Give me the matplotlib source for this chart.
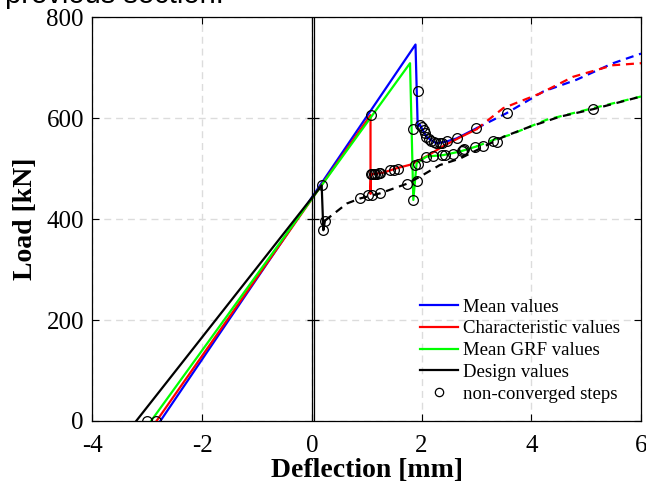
import matplotlib
matplotlib.use("Agg")
import matplotlib.pyplot as plt
import numpy as np

# ---------------- data ----------------
mean_solid_x = [-2.76, 1.89, 1.93, 1.97, 2.09, 2.27, 2.46, 2.64, 3.00]
mean_solid_y = [0, 746, 583, 587, 563, 550, 554, 560, 580]
mean_dash_x = [3.00, 3.55, 4.22, 4.82, 5.49, 6.00]
mean_dash_y = [580, 610, 653, 676, 709, 728]

char_solid_x = [-2.83, 1.07, 1.07, 1.08, 1.30, 1.55, 1.80, 2.10, 2.40, 2.70, 3.00]
char_solid_y = [0, 606, 450, 489, 492, 501, 508, 525, 545, 562, 578]
char_dash_x = [3.00, 3.49, 4.16, 4.76, 5.49, 6.00]
char_dash_y = [578, 620, 649, 682, 705, 709]

grf_solid_x = [-2.93, 1.79, 1.85, 1.91, 2.09, 2.40, 2.70, 3.00]
grf_solid_y = [0, 709, 438, 511, 524, 527, 534, 544]
grf_dash_x = [3.00, 3.31, 3.61, 4.28, 5.13, 6.00]
grf_dash_y = [544, 557, 567, 597, 620, 643]

des_solid_x = [-3.20, 0.18, 0.21, 0.24]
des_solid_y = [0, 467, 378, 397]
des_dash_x = [0.24, 0.64, 0.88, 1.24, 1.73, 1.97, 2.33, 2.70, 3.49, 3.97, 4.52, 5.13, 6.00]
des_dash_y = [397, 431, 441, 451, 470, 484, 507, 520, 563, 583, 603, 618, 643]

nc_x = [-3.00, -2.84, 0.18, 0.21, 0.24, 1.07,
        1.07, 1.10, 1.13, 1.16, 1.19, 1.22, 1.25, 1.42, 1.50, 1.58,
        0.88, 1.03, 1.09, 1.24, 1.73, 1.84, 1.85, 1.91, 1.94,
        1.97, 2.00, 2.04, 2.07, 2.09, 2.13, 2.18, 2.22, 2.27, 2.33, 2.38, 2.46,
        2.64, 3.00, 1.88, 1.93, 2.09, 2.20, 2.37, 2.42, 2.58, 2.73, 2.78,
        2.97, 2.76, 3.12, 3.31, 3.37, 3.55, 5.13]
nc_y = [0, 0, 467, 378, 397, 606,
        489, 489, 489, 489, 490, 491, 492, 497, 498, 499,
        441, 448, 448, 451, 470, 578, 438, 476, 654,
        587, 582, 576, 570, 563, 558, 555, 553, 550, 550, 551, 554,
        560, 580, 507, 509, 524, 525, 527, 528, 530, 536, 538,
        542, 537, 545, 554, 552, 610, 618]

xticks = [-4, -2, 0, 2, 4, 6]
yticks = [0, 200, 400, 600, 800]

labels = ["Mean values", "Characteristic values", "Mean GRF values",
          "Design values", "non-converged steps"]
colors = ["#0000ff", "#ff0000", "#00ff00", "#000000"]

# ---------------- figure ----------------
serif = ["Liberation Serif", "DejaVu Serif"]
fig = plt.figure(figsize=(6.46, 4.91), dpi=100)
ax = fig.add_axes([0.1429, 0.1426, 0.9923 - 0.1429, 0.9648 - 0.1426])

lw = 1.6
dash = (3.6, 2.6)
series = [
    (mean_solid_x, mean_solid_y, mean_dash_x, mean_dash_y),
    (char_solid_x, char_solid_y, char_dash_x, char_dash_y),
    (grf_solid_x, grf_solid_y, grf_dash_x, grf_dash_y),
    (des_solid_x, des_solid_y, des_dash_x, des_dash_y),
]
handles = []
for i, (sx, sy, dx, dy) in enumerate(series):
    h, = ax.plot(sx, sy, color=colors[i], lw=lw, zorder=3 + i * 0.1)
    d, = ax.plot(dx, dy, color=colors[i], lw=lw, zorder=3 + i * 0.1)
    d.set_dashes(dash)
    d.set_dash_capstyle("butt")
    handles.append(h)

hm, = ax.plot(nc_x, nc_y, linestyle="none", marker="o", ms=7, mfc="none",
              mec="black", mew=0.9, zorder=5)
handles.append(hm)

# origin y-axis (double line) with tick marks
ax.axvline(0.0, color="black", lw=0.9, zorder=4)
ax.axvline(0.032, color="black", lw=0.9, zorder=4)
ax.plot([0.016] * 3, yticks[1:4], linestyle="none", marker="_", ms=8,
        mec="black", mew=0.9, zorder=4)

ax.set_xlim(-4, 6)
ax.set_ylim(0, 800)
ax.set_xticks(xticks)
ax.set_yticks(yticks)
ax.set_xticklabels([f"{t:d}" for t in xticks])
ax.set_yticklabels([f"{t:d}" for t in yticks])
ax.tick_params(direction="in", length=5, width=0.8, top=True, right=True,
               labelsize=18)
ax.tick_params(axis="x", pad=10)
ax.tick_params(axis="y", pad=6)
for lab in ax.get_xticklabels() + ax.get_yticklabels():
    lab.set_family(serif)
for sp in ax.spines.values():
    sp.set_linewidth(0.9)

ax.grid(True, color="#dcdcdc", lw=1.0, linestyle=(0, (5, 3.5)))
ax.set_axisbelow(True)

ax.set_xlabel("Deflection [mm]", family=serif, fontsize=20, fontweight="bold",
              labelpad=1)
ax.set_ylabel("Load [kN]", family=serif, fontsize=20, fontweight="bold",
              labelpad=6)

leg = ax.legend(handles, labels, loc="lower right", frameon=False,
                prop={"family": serif, "size": 13.5}, handlelength=2.0,
                handletextpad=0.3, labelspacing=0.25, borderpad=0,
                bbox_to_anchor=(0.962, 0.045), borderaxespad=0)
leg.legend_handles[4].set_markersize(6)

fig.text(0.008, 0.993, "previous section.", family=["Liberation Sans", "DejaVu Sans"],
         fontsize=21, va="baseline", ha="left")

fig.savefig("out.png", dpi=100)
